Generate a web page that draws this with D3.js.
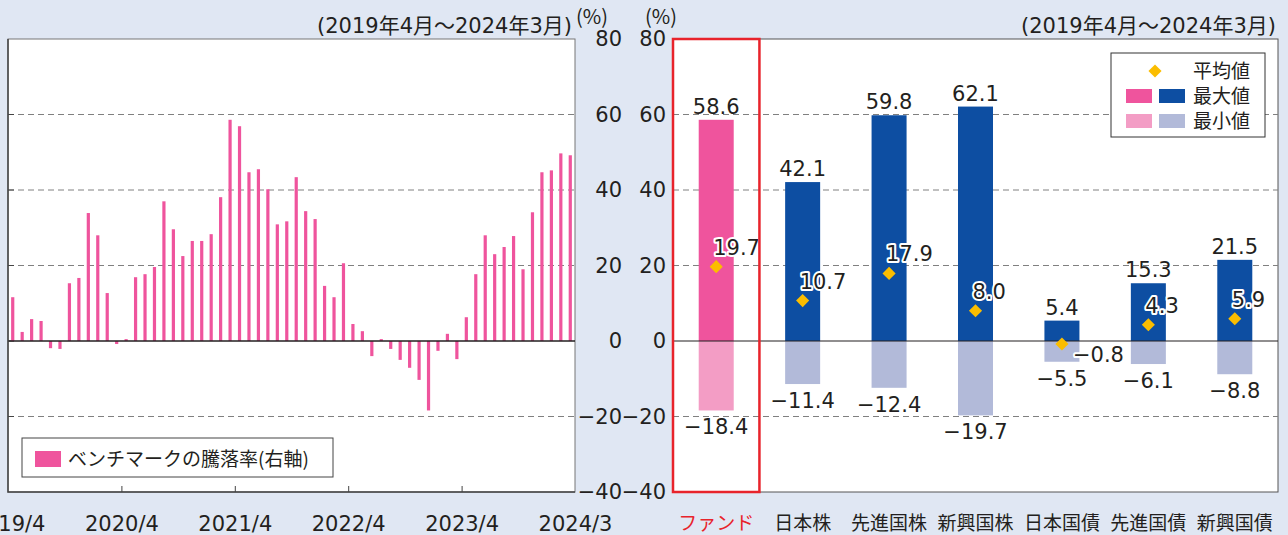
<!DOCTYPE html>
<html>
<head>
<meta charset="utf-8">
<script src="https://cdn.jsdelivr.net/npm/d3@7"></script>
<style>
  body { margin: 0; background: #e0e7f3; }
  svg { display: block; }
  .num { font-family: "DejaVu Sans", "Noto Sans CJK JP", sans-serif; fill: #231f20; }
  .jp { font-family: "Noto Sans CJK JP", sans-serif; fill: #231f20; }
</style>
</head>
<body>
<svg id="chart" width="1288" height="535"></svg>
<script>
// monthly benchmark returns, 2019/4 .. 2024/3 (%)
const benchmark = [
  11.6, 2.4, 5.8, 5.3, -1.9, -2.1, 15.3, 16.7, 33.9, 28.0,
  12.7, -0.8, 0.5, 16.9, 17.7, 19.6, 37.0, 29.6, 22.5, 26.5,
  26.5, 28.3, 38.1, 58.6, 56.9, 44.7, 45.5, 40.2, 30.9, 31.7,
  43.4, 34.4, 32.3, 14.6, 11.6, 20.6, 4.5, 2.6, -4.0, 0.5,
  -2.1, -5.0, -7.1, -10.3, -18.4, -2.6, 1.9, -4.8, 6.3, 17.7,
  28.0, 23.0, 24.9, 27.8, 19.0, 34.1, 44.7, 45.2, 49.7, 49.2
];
const tickLabels = ["2019/4", "2020/4", "2021/4", "2022/4", "2023/4", "2024/3"];
const tickMonths = [0, 12, 24, 36, 48, 60];
const yTicks = [80, 60, 40, 20, 0, -20, -40];
const gridTicks = [60, 40, 20, -20];

const categories = ["ファンド", "日本株", "先進国株", "新興国株", "日本国債", "先進国債", "新興国債"];
const maxValues = [58.6, 42.1, 59.8, 62.1, 5.4, 15.3, 21.5];
const minValues = [-18.4, -11.4, -12.4, -19.7, -5.5, -6.1, -8.8];
const avgValues = [19.7, 10.7, 17.9, 8.0, -0.8, 4.3, 5.9];

const periodLabel = "(2019年4月～2024年3月)";

const pink = "#ef549d", pinkLight = "#f39dc5";
const blue = "#0d4ea2", blueLight = "#b2bad9";
const gold = "#fbbd00", red = "#e8232b";

const svg = d3.select("#chart");
const fmt = v => (v < 0 ? "−" : "") + Math.abs(v).toFixed(1);

const y = d3.scaleLinear().domain([-40, 80]).range([492, 39]);
const xm = d3.scaleLinear().domain([0, 60]).range([8, 575]);
const xc = d3.scaleBand().domain(categories).range([673, 1278]).padding(0);
const barW = xc.bandwidth() * 0.405;

// ---------- left panel ----------
const left = svg.append("g");
left.append("rect")
  .attr("x", xm(0)).attr("y", y(80))
  .attr("width", xm(60) - xm(0)).attr("height", y(-40) - y(80))
  .attr("fill", "#fff").attr("stroke", "#777").attr("stroke-width", 1);

left.selectAll(".grid").data(gridTicks).enter().append("line")
  .attr("x1", xm(0)).attr("x2", xm(60))
  .attr("y1", d => y(d)).attr("y2", d => y(d))
  .attr("stroke", "#808080").attr("stroke-dasharray", "6,4");

left.selectAll(".lt").data(yTicks.slice(1, -1)).enter().append("line")
  .attr("x1", xm(0)).attr("x2", xm(0) + 6)
  .attr("y1", d => y(d)).attr("y2", d => y(d))
  .attr("stroke", "#444");

left.selectAll(".bm").data(benchmark).enter().append("rect")
  .attr("x", (d, i) => xm(i + 0.5) - 1.6)
  .attr("width", 3.2)
  .attr("y", d => y(Math.max(0, d)))
  .attr("height", d => Math.abs(y(d) - y(0)))
  .attr("fill", pink);

left.append("line")
  .attr("x1", xm(0)).attr("x2", xm(60)).attr("y1", y(0)).attr("y2", y(0))
  .attr("stroke", "#231f20").attr("stroke-width", 1.5);

left.append("path")
  .attr("d", `M${xm(0)},${y(80)}V${y(-40)}H${xm(60)}`)
  .attr("fill", "none").attr("stroke", "#444").attr("stroke-width", 1.5);

const xAxis = d3.axisBottom(xm)
  .tickValues(tickMonths)
  .tickFormat((d, i) => tickLabels[i])
  .tickSizeInner(-6).tickSizeOuter(0).tickPadding(24);
const gx = left.append("g").attr("transform", `translate(0,${y(-40)})`).call(xAxis);
gx.select(".domain").remove();
gx.selectAll(".tick line").attr("stroke", "#444")
  .filter(d => d === 0 || d === 60).remove();
gx.selectAll("text").attr("class", "num").attr("font-size", 21).attr("fill", "#231f20");

const yFmt = d => (d < 0 ? "−" : "") + Math.abs(d);
const gyl = svg.append("g").attr("transform", "translate(625,0)")
  .call(d3.axisLeft(y).tickValues(yTicks).tickSize(0).tickPadding(3).tickFormat(yFmt));
const gyr = svg.append("g").attr("transform", "translate(669,0)")
  .call(d3.axisLeft(y).tickValues(yTicks).tickSize(0).tickPadding(3).tickFormat(yFmt));
[gyl, gyr].forEach(g => {
  g.select(".domain").remove();
  g.selectAll("text").attr("class", "num").attr("font-size", 21).attr("fill", "#231f20");
});

// left legend
const lgL = svg.append("g");
lgL.append("rect").attr("x", 22).attr("y", 438).attr("width", 311).attr("height", 39)
  .attr("fill", "#fff").attr("stroke", "#444");
lgL.append("rect").attr("x", 35).attr("y", 451).attr("width", 26).attr("height", 16).attr("fill", pink);
lgL.append("text").attr("class", "jp").attr("x", 68).attr("y", 459).attr("dy", "0.35em")
  .attr("font-size", 19).text("ベンチマークの騰落率(右軸)");

// ---------- right panel ----------
const right = svg.append("g");
right.append("rect")
  .attr("x", 673).attr("y", y(80))
  .attr("width", 1278 - 673).attr("height", y(-40) - y(80))
  .attr("fill", "#fff").attr("stroke", "#555").attr("stroke-width", 1);

right.selectAll(".grid").data(gridTicks).enter().append("line")
  .attr("x1", 673).attr("x2", 1278)
  .attr("y1", d => y(d)).attr("y2", d => y(d))
  .attr("stroke", "#808080").attr("stroke-dasharray", "6,4");

const cx = c => xc(c) + xc.bandwidth() / 2;

right.selectAll(".maxbar").data(categories).enter().append("rect")
  .attr("x", c => cx(c) - barW / 2).attr("width", barW)
  .attr("y", (c, i) => y(maxValues[i]))
  .attr("height", (c, i) => y(0) - y(maxValues[i]))
  .attr("fill", (c, i) => i === 0 ? pink : blue);

right.selectAll(".minbar").data(categories).enter().append("rect")
  .attr("x", c => cx(c) - barW / 2).attr("width", barW)
  .attr("y", y(0))
  .attr("height", (c, i) => y(minValues[i]) - y(0))
  .attr("fill", (c, i) => i === 0 ? pinkLight : blueLight);

right.append("line")
  .attr("x1", 673).attr("x2", 1278).attr("y1", y(0)).attr("y2", y(0))
  .attr("stroke", "#231f20").attr("stroke-width", 1.2);

right.selectAll(".maxlab").data(categories).enter().append("text")
  .attr("class", "num").attr("font-size", 21).attr("text-anchor", "middle")
  .attr("x", cx).attr("y", (c, i) => y(maxValues[i]) - 6)
  .text((c, i) => fmt(maxValues[i]));

right.selectAll(".minlab").data(categories).enter().append("text")
  .attr("class", "num").attr("font-size", 21).attr("text-anchor", "middle")
  .attr("x", cx).attr("y", (c, i) => y(minValues[i]) + 24)
  .text((c, i) => fmt(minValues[i]));

const diamond = d3.symbol().type(d3.symbolSquare).size(86);
right.selectAll(".avg").data(categories).enter().append("path")
  .attr("d", diamond)
  .attr("transform", (c, i) => `translate(${cx(c)},${y(avgValues[i])}) rotate(45)`)
  .attr("fill", gold);

right.selectAll(".avglab").data(categories).enter().append("text")
  .attr("class", "num").attr("font-size", 21)
  .attr("x", (c, i) => avgValues[i] < 0 ? cx(c) + 11 : cx(c) - 3)
  .attr("y", (c, i) => avgValues[i] < 0 ? y(avgValues[i]) + 18 : y(avgValues[i]) - 12)
  .attr("stroke", "#fff").attr("stroke-width", 4).attr("paint-order", "stroke")
  .attr("stroke-linejoin", "round")
  .text((c, i) => fmt(avgValues[i]));

// red frame around the fund column
right.append("rect")
  .attr("x", xc(categories[0])).attr("y", y(80))
  .attr("width", xc.bandwidth()).attr("height", y(-40) - y(80))
  .attr("fill", "none").attr("stroke", red).attr("stroke-width", 2.5);

right.selectAll(".cat").data(categories).enter().append("text")
  .attr("class", "jp").attr("font-size", 19).attr("text-anchor", "middle")
  .attr("x", cx).attr("y", 530)
  .style("fill", (c, i) => i === 0 ? red : null)
  .text(c => c);

// right legend
const lgR = svg.append("g");
lgR.append("rect").attr("x", 1111).attr("y", 53).attr("width", 154).attr("height", 84)
  .attr("fill", "#fff").attr("stroke", "#333");
lgR.append("path").attr("d", diamond).attr("transform", "translate(1155,71) rotate(45)").attr("fill", gold);
lgR.append("rect").attr("x", 1126).attr("y", 89).attr("width", 26).attr("height", 14).attr("fill", pink);
lgR.append("rect").attr("x", 1159).attr("y", 89).attr("width", 26).attr("height", 14).attr("fill", blue);
lgR.append("rect").attr("x", 1126).attr("y", 114).attr("width", 26).attr("height", 14).attr("fill", pinkLight);
lgR.append("rect").attr("x", 1159).attr("y", 114).attr("width", 26).attr("height", 14).attr("fill", blueLight);
[["平均値", 71], ["最大値", 96], ["最小値", 121]].forEach(([t, ty]) => {
  lgR.append("text").attr("class", "jp").attr("font-size", 19)
    .attr("x", 1193).attr("y", ty).attr("dy", "0.36em").text(t);
});

// titles and units
svg.append("text").attr("class", "num").attr("font-size", 21).attr("text-anchor", "end")
  .attr("x", 572).attr("y", 33).text(periodLabel);
svg.append("text").attr("class", "num").attr("font-size", 21).attr("text-anchor", "end")
  .attr("x", 1276).attr("y", 33).text(periodLabel);
svg.append("text").attr("class", "jp").attr("font-size", 20).attr("text-anchor", "middle")
  .attr("x", 592).attr("y", 24).text("(%)");
svg.append("text").attr("class", "jp").attr("font-size", 20).attr("text-anchor", "middle")
  .attr("x", 661).attr("y", 24).text("(%)");
</script>
</body>
</html>
